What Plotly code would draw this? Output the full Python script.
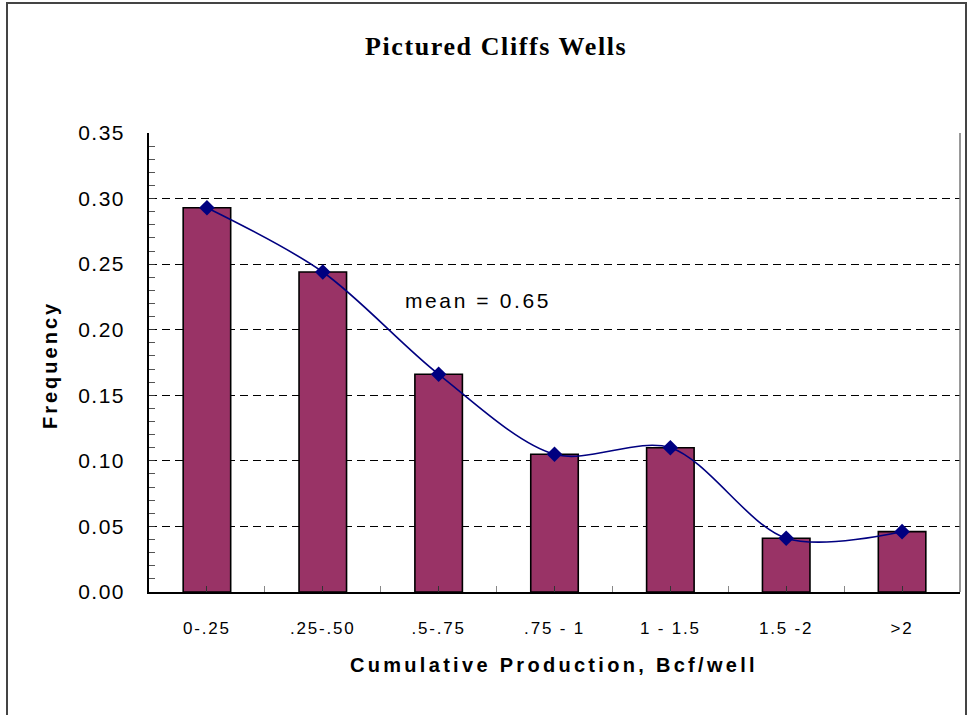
import plotly.graph_objects as go

categories = ["0-.25", ".25-.50", ".5-.75", ".75 - 1", "1 - 1.5", "1.5 -2", ">2"]
frequency = [0.293, 0.244, 0.166, 0.105, 0.110, 0.041, 0.046]
y_ticks = [0.00, 0.05, 0.10, 0.15, 0.20, 0.25, 0.30, 0.35]
y_tick_labels = ["0.00", "0.05", "0.10", "0.15", "0.20", "0.25", "0.30", "0.35"]

xpos = list(range(len(categories)))


def spaced(t, ls):
    return f'<span style="letter-spacing:{ls}px">{t}</span>'


fig = go.Figure()
fig.add_trace(go.Bar(
    x=xpos, y=frequency, width=0.41,
    marker=dict(color="#993366", line=dict(color="black", width=1.6)),
    showlegend=False, hoverinfo="skip",
))
fig.add_trace(go.Scatter(
    x=xpos, y=frequency, mode="lines+markers",
    line=dict(color="#000080", width=1.6, shape="spline", smoothing=0.9),
    marker=dict(symbol="diamond", size=12, color="#000080"),
    showlegend=False,
))

fig.update_layout(
    width=969, height=715,
    margin=dict(l=149, r=9, t=133, b=123),
    paper_bgcolor="white", plot_bgcolor="white",
    font=dict(family="Liberation Sans, Arial", color="black"),
    title=dict(
        text=spaced("<b>Pictured Cliffs Wells</b>", 1.6),
        font=dict(family="Liberation Serif, Times New Roman", size=26, color="black"),
        x=0.512, xanchor="center", y=1 - 46 / 715, yanchor="middle",
    ),
    bargap=0.59,
)

fig.update_xaxes(
    range=[-0.5, 6.5],
    tickmode="array", tickvals=xpos,
    ticktext=[spaced(c, 1.8) for c in categories],
    tickfont=dict(size=17, color="black"),
    ticks="inside", ticklen=6, tickwidth=1, tickcolor="#333333",
    ticklabelstandoff=20,
    minor=dict(tickmode="array", tickvals=[i + 0.5 for i in range(-1, 7)],
               ticks="inside", ticklen=6, tickwidth=1, tickcolor="#888888"),
    showline=True, linecolor="black", linewidth=1.5,
    showgrid=False, zeroline=False,
)
fig.update_yaxes(
    range=[0, 0.35],
    tickmode="array", tickvals=y_ticks,
    ticktext=[spaced(t, 1.5) for t in y_tick_labels],
    tickfont=dict(size=21, color="black"),
    ticks="inside", ticklen=6, tickwidth=1, tickcolor="#333333",
    ticklabelstandoff=18,
    minor=dict(dtick=0.01, tick0=0, ticks="inside", ticklen=6, tickwidth=1,
               tickcolor="#555555", showgrid=False),
    showline=True, linecolor="black", linewidth=1.5,
    showgrid=True, gridcolor="black", gridwidth=1, griddash="8px,5px",
    zeroline=False,
)

# plot-area right border and outer chart border
fig.add_shape(type="line", xref="paper", yref="paper", x0=1, x1=1, y0=0, y1=1,
              line=dict(color="#777777", width=1.5))
fig.add_shape(type="rect", xref="paper", yref="paper",
              x0=(7 - 149) / 811, x1=(966 - 149) / 811,
              y0=(592 - 730) / 459, y1=(592 - 3) / 459,
              line=dict(color="#444444", width=2), fillcolor="rgba(0,0,0,0)",
              layer="below")

fig.add_annotation(
    text=spaced("<b>Frequency</b>", 3), xref="paper", yref="paper",
    x=(50 - 149) / 811, y=(592 - 365) / 459, textangle=-90,
    showarrow=False, font=dict(size=20, color="black"),
    xanchor="center", yanchor="middle",
)
fig.add_annotation(
    text=spaced("<b>Cumulative Production, Bcf/well</b>", 3.3), xref="paper", yref="paper",
    x=(554 - 149) / 811, y=(592 - 665) / 459,
    showarrow=False, font=dict(size=20, color="black"),
    xanchor="center", yanchor="middle",
)
fig.add_annotation(
    text=spaced("mean = 0.65", 2.6), x=2.34, y=0.222,
    showarrow=False, font=dict(size=21, color="black"),
    xanchor="center", yanchor="middle",
)

fig.write_html("out.html", config={"displayModeBar": False},
               post_script="document.body.style.margin='0';")
